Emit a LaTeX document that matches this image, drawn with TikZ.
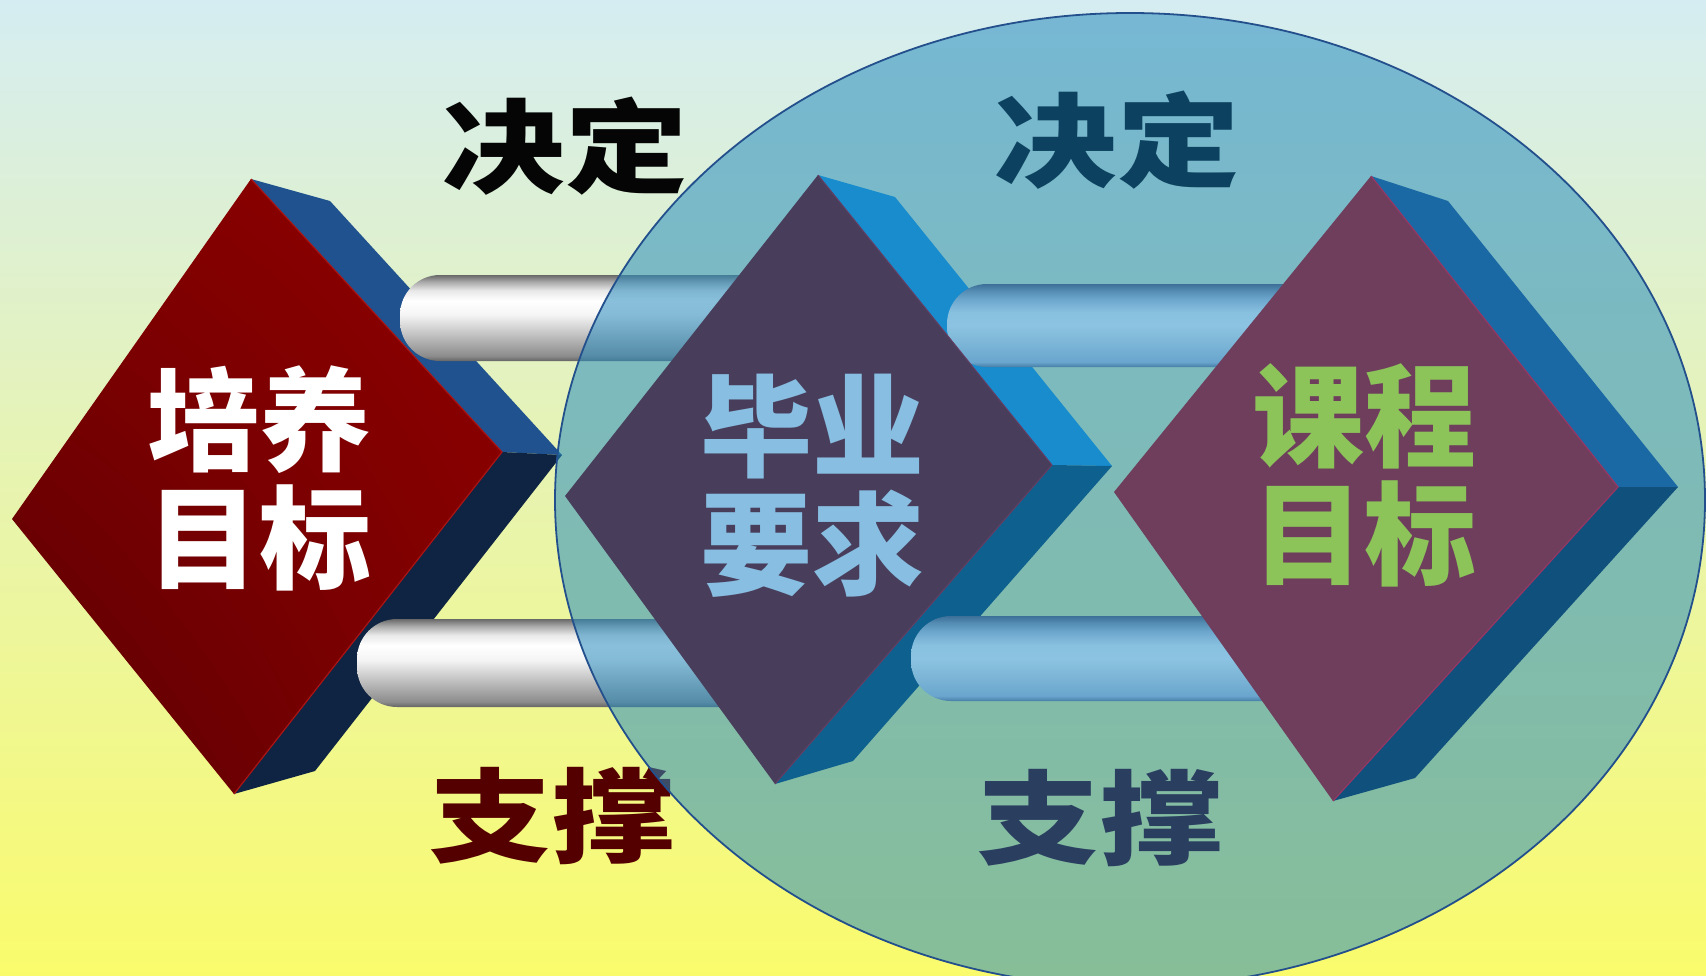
\documentclass[tikz,border=0pt]{standalone}
\usepackage{fontspec}
\usetikzlibrary{shadings}
\newfontfamily\cjk{Noto Sans CJK SC}
\definecolor{bgtop}{RGB}{213,237,242}
\definecolor{bgmid}{RGB}{231,244,205}
\definecolor{bgbot}{RGB}{250,251,108}
\definecolor{ovl}{RGB}{41,140,189}
\definecolor{ovledge}{RGB}{35,80,140}
\definecolor{lup}{RGB}{31,82,142}
\definecolor{ldown}{RGB}{14,36,66}
\definecolor{lfaceA}{RGB}{142,0,0}
\definecolor{lfaceB}{RGB}{128,0,0}
\definecolor{lfaceC}{RGB}{90,0,4}
\definecolor{ledge}{RGB}{170,20,20}
\definecolor{mup}{RGB}{24,140,205}
\definecolor{mdown}{RGB}{14,96,142}
\definecolor{mface}{RGB}{72,62,92}
\definecolor{medge}{RGB}{100,62,100}
\definecolor{mtext}{RGB}{135,190,225}
\definecolor{rup}{RGB}{26,105,165}
\definecolor{rdown}{RGB}{16,80,124}
\definecolor{rface}{RGB}{110,62,92}
\definecolor{redge}{RGB}{150,55,100}
\definecolor{rtext}{RGB}{140,196,90}
\definecolor{lblA}{RGB}{5,5,5}
\definecolor{lblB}{RGB}{85,0,0}
\definecolor{lblC}{RGB}{12,65,95}
\definecolor{lblD}{RGB}{42,62,96}
\definecolor{sA}{RGB}{100,100,100}
\definecolor{sB}{RGB}{140,140,140}
\definecolor{sC}{RGB}{192,192,192}
\definecolor{sD}{RGB}{245,245,245}
\definecolor{sE}{RGB}{232,232,232}
\definecolor{sF}{RGB}{170,170,170}
\definecolor{sG}{RGB}{105,105,105}
\definecolor{bA}{RGB}{70,125,165}
\definecolor{bB}{RGB}{105,165,205}
\definecolor{bC}{RGB}{125,182,215}
\definecolor{bD}{RGB}{140,195,226}
\definecolor{bE}{RGB}{136,192,223}
\definecolor{bF}{RGB}{108,166,204}
\definecolor{bG}{RGB}{84,140,180}
\definecolor{bH}{RGB}{60,112,152}
\pgfdeclareverticalshading{silverpipe}{100bp}{color(0bp)=(sA); color(25bp)=(sA); color(28bp)=(sB); color(40bp)=(sC); color(52bp)=(sD); color(60bp)=(white); color(66bp)=(sE); color(71bp)=(sF); color(75bp)=(sG); color(100bp)=(sG)}
\pgfdeclareverticalshading{bluepipe}{100bp}{color(0bp)=(bA); color(25bp)=(bA); color(28bp)=(bB); color(40bp)=(bC); color(50bp)=(bD); color(58bp)=(bE); color(66bp)=(bF); color(71bp)=(bG); color(75bp)=(bH); color(100bp)=(bH)}
\begin{document}
\begin{tikzpicture}[x=1pt,y=-1pt,
  dtext/.style={font=\cjk\bfseries\fontsize{112}{118}\selectfont, align=center, inner sep=0pt},
  lbl/.style={font=\cjk\bfseries\fontsize{102}{102}\selectfont, inner sep=0pt},
  pipesilver/.style={shading=silverpipe, rounded corners=40pt},
  pipeblue/.style={shading=bluepipe, rounded corners=40pt}]
\useasboundingbox (0,0) rectangle (1706,975);
% background
\shade[top color=bgtop, middle color=bgmid, bottom color=bgbot] (0,0) rectangle (1706,975);

% ---- left diamond ----
\coordinate (LT) at (251,179);
\coordinate (LTp) at (330,201);
\coordinate (LR) at (502,452);
\coordinate (LRp) at (562,455);
\coordinate (LBp) at (315,771);
\coordinate (LB) at (234,794);
\coordinate (LL) at (12,519);
\fill[lup] (LT) -- (LTp) -- (LRp) -- (LR) -- cycle;
\fill[ldown] (LR) -- (LRp) -- (LBp) -- (LB) -- cycle;
% left pipes
\shade[pipesilver] (400,275) rectangle (850,361);
\shade[pipesilver] (357,619) rectangle (820,707);
\shade[upper right=lfaceA, upper left=lfaceB, lower right=lfaceB, lower left=lfaceC] (LT) -- (LR) -- (LB) -- (LL) -- cycle;
\draw[ledge, line width=1.2pt] (LT) -- (LR) -- (LB);
\node[dtext, text=white] (t1) at (259,478) {培养\\目标};

% left labels
\node[lbl, text=lblA] (dA) at (565,146) {\scalebox{1.2}[1]{决定}};
\node[lbl, text=lblB] (zA) at (552,816) {\scalebox{1.2}[1]{支撑}};

% ---- ellipse overlay ----
\fill[ovl, fill opacity=0.55] (1130,500) ellipse [x radius=575, y radius=487];
\draw[ovledge, line width=1.8pt] (1130,500) ellipse [x radius=575, y radius=487];

% ---- middle diamond ----
\coordinate (MT) at (818,175);
\coordinate (MTp) at (895,197);
\coordinate (MR) at (1052,465);
\coordinate (MRp) at (1112,466);
\coordinate (MBp) at (853,761);
\coordinate (MB) at (775,784);
\coordinate (ML) at (565,496);
\fill[mup] (MT) -- (MTp) -- (MRp) -- (MR) -- cycle;
\fill[mdown] (MR) -- (MRp) -- (MBp) -- (MB) -- cycle;
% right pipes
\shade[pipeblue] (947,284) rectangle (1380,367);
\shade[pipeblue] (911,616) rectangle (1350,701);
\fill[mface] (MT) -- (MR) -- (MB) -- (ML) -- cycle;
\draw[medge, line width=1pt] (MT) -- (MR) -- (MB);
\node[dtext, text=mtext] (t2) at (812,486) {毕业\\要求};

% ---- right diamond ----
\coordinate (RT) at (1371,176);
\coordinate (RTp) at (1448,201);
\coordinate (RR) at (1618,487);
\coordinate (RRp) at (1678,487);
\coordinate (RBp) at (1415,778);
\coordinate (RB) at (1333,801);
\coordinate (RL) at (1114,492);
\fill[rup] (RT) -- (RTp) -- (RRp) -- (RR) -- cycle;
\fill[rdown] (RR) -- (RRp) -- (RBp) -- (RB) -- cycle;
\fill[rface] (RT) -- (RR) -- (RB) -- (RL) -- cycle;
\draw[redge, line width=1.2pt] (RT) -- (RR) -- (RB);
\node[dtext, text=rtext] (t3) at (1364,475) {课程\\目标};

% right labels
\node[lbl, text=lblC] (dB) at (1117,140) {\scalebox{1.2}[1]{决定}};
\node[lbl, text=lblD] (zB) at (1100,818) {\scalebox{1.2}[1]{支撑}};
\end{tikzpicture}
\end{document}
